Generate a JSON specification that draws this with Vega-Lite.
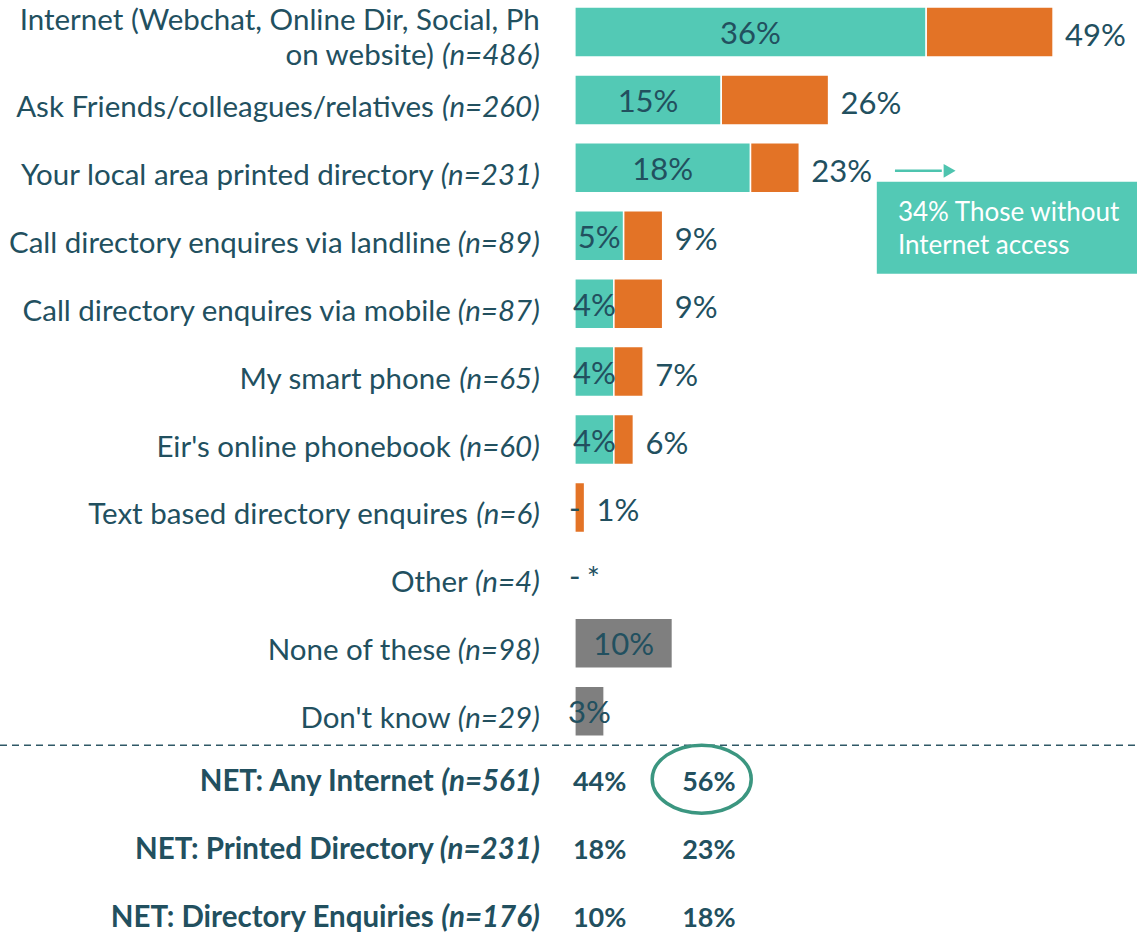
{
  "$schema": "https://vega.github.io/schema/vega-lite/v6.json",
  "width": 1137,
  "height": 933,
  "padding": 0,
  "autosize": {"type": "none"},
  "background": "white",
  "config": {"view": {"stroke": null}, "font": "Lato"},
  "data": {
    "values": [
      {"row": "Internet", "line1": "Internet (Webchat, Online Dir, Social, Ph", "label": "on website)", "n": "(n=486)", "first": 36, "total": 49, "firstLabel": "36%", "totalLabel": "49%", "kind": "answer"},
      {"row": "Ask Friends", "label": "Ask Friends/colleagues/relatives", "n": "(n=260)", "first": 15, "total": 26, "firstLabel": "15%", "totalLabel": "26%", "kind": "answer"},
      {"row": "Printed directory", "label": "Your local area printed directory", "n": "(n=231)", "first": 18, "total": 23, "firstLabel": "18%", "totalLabel": "23%", "kind": "answer"},
      {"row": "Landline", "label": "Call directory enquires via landline", "n": "(n=89)", "first": 5, "total": 9, "firstLabel": "5%", "totalLabel": "9%", "kind": "answer"},
      {"row": "Mobile", "label": "Call directory enquires via mobile", "n": "(n=87)", "first": 4, "total": 9, "firstLabel": "4%", "totalLabel": "9%", "kind": "answer"},
      {"row": "Smart phone", "label": "My smart phone", "n": "(n=65)", "first": 4, "total": 7, "firstLabel": "4%", "totalLabel": "7%", "kind": "answer"},
      {"row": "Eir", "label": "Eir's online phonebook", "n": "(n=60)", "first": 4, "total": 6, "firstLabel": "4%", "totalLabel": "6%", "kind": "answer"},
      {"row": "Text based", "label": "Text based directory enquires", "n": "(n=6)", "first": 0, "total": 1, "firstLabel": "-", "totalLabel": "1%", "kind": "answer"},
      {"row": "Other", "label": "Other", "n": "(n=4)", "first": 0, "total": 0, "firstLabel": "-", "totalLabel": "*", "kind": "answer"},
      {"row": "None", "label": "None of these", "n": "(n=98)", "first": 10, "firstLabel": "10%", "kind": "none"},
      {"row": "Don't know", "label": "Don't know", "n": "(n=29)", "first": 3, "firstLabel": "3%", "kind": "none"},
      {"row": "NET Internet", "net": "NET: Any Internet", "n": "(n=561)", "net1": "44%", "net2": "56%"},
      {"row": "NET Printed", "net": "NET: Printed Directory", "n": "(n=231)", "net1": "18%", "net2": "23%"},
      {"row": "NET Enquiries", "net": "NET: Directory Enquiries", "n": "(n=176)", "net1": "10%", "net2": "18%"}
    ]
  },
  "layer": [
    {
      "transform": [{"filter": "datum.first > 0"}],
      "mark": {"type": "bar", "stroke": "white", "strokeWidth": 1.5},
      "encoding": {
        "y": {"field": "row", "type": "nominal", "axis": null,
          "scale": {"domain": ["Internet", "Ask Friends", "Printed directory", "Landline", "Mobile", "Smart phone", "Eir", "Text based", "Other", "None", "Don't know", "NET Internet", "NET Printed", "NET Enquiries"],
            "range": [7, 940], "paddingInner": 0.264, "paddingOuter": 0}},
        "x": {"field": "first", "type": "quantitative", "axis": null, "scale": {"domain": [-58.9, 57.6], "nice": false, "zero": false}},
        "x2": {"datum": 0},
        "color": {"field": "kind", "type": "nominal", "legend": null, "scale": {"domain": ["answer", "none"], "range": ["#53C9B5", "#7F7F7F"]}}
      }
    },
    {
      "transform": [{"filter": "isValid(datum.total) && datum.total > datum.first"}],
      "mark": {"type": "bar", "stroke": "white", "strokeWidth": 1.5, "color": "#E37326"},
      "encoding": {
        "y": {"field": "row", "type": "nominal"},
        "x": {"field": "first", "type": "quantitative"},
        "x2": {"field": "total"}
      }
    },
    {
      "transform": [{"filter": "isValid(datum.firstLabel)"}, {"calculate": "datum.first / 2", "as": "mid"}],
      "mark": {"type": "text", "align": "center", "baseline": "alphabetic", "fontSize": 31, "color": "#22505F"},
      "encoding": {
        "y": {"field": "row", "type": "nominal", "bandPosition": 0.74},
        "x": {"field": "mid", "type": "quantitative"},
        "text": {"field": "firstLabel"}
      }
    },
    {
      "transform": [{"filter": "isValid(datum.totalLabel)"}],
      "mark": {"type": "text", "align": "left", "baseline": "alphabetic", "fontSize": 31, "dx": 12, "color": "#22505F"},
      "encoding": {
        "y": {"field": "row", "type": "nominal", "bandPosition": 0.78},
        "x": {"field": "total", "type": "quantitative"},
        "text": {"field": "totalLabel"}
      }
    },
    {
      "transform": [{"filter": "isValid(datum.label) && datum.row != 'Internet' && length(datum.n) == 7"}],
      "mark": {"type": "text", "align": "right", "baseline": "alphabetic", "fontSize": 29.5, "dx": -106, "color": "#22505F"},
      "encoding": {
        "y": {"field": "row", "type": "nominal", "bandPosition": 0.84},
        "x": {"datum": -3.59, "type": "quantitative"},
        "text": {"field": "label"}
      }
    },
    {
      "transform": [{"filter": "isValid(datum.label) && length(datum.n) == 6"}],
      "mark": {"type": "text", "align": "right", "baseline": "alphabetic", "fontSize": 29.5, "dx": -89, "color": "#22505F"},
      "encoding": {
        "y": {"field": "row", "type": "nominal", "bandPosition": 0.84},
        "x": {"datum": -3.59, "type": "quantitative"},
        "text": {"field": "label"}
      }
    },
    {
      "transform": [{"filter": "isValid(datum.label) && length(datum.n) == 5"}],
      "mark": {"type": "text", "align": "right", "baseline": "alphabetic", "fontSize": 29.5, "dx": -72, "color": "#22505F"},
      "encoding": {
        "y": {"field": "row", "type": "nominal", "bandPosition": 0.84},
        "x": {"datum": -3.59, "type": "quantitative"},
        "text": {"field": "label"}
      }
    },
    {
      "transform": [{"filter": "isValid(datum.label) && datum.row != 'Internet'"}],
      "mark": {"type": "text", "align": "right", "baseline": "alphabetic", "fontSize": 29.5, "fontStyle": "italic", "color": "#22505F"},
      "encoding": {
        "y": {"field": "row", "type": "nominal", "bandPosition": 0.84},
        "x": {"datum": -3.59, "type": "quantitative"},
        "text": {"field": "n"}
      }
    },
    {
      "transform": [{"filter": "datum.row == 'Internet'"}],
      "mark": {"type": "text", "align": "right", "baseline": "alphabetic", "fontSize": 29.5, "color": "#22505F"},
      "encoding": {
        "y": {"field": "row", "type": "nominal", "bandPosition": 0.46},
        "x": {"datum": -3.59, "type": "quantitative"},
        "text": {"field": "line1"}
      }
    },
    {
      "transform": [{"filter": "datum.row == 'Internet'"}],
      "mark": {"type": "text", "align": "right", "baseline": "alphabetic", "fontSize": 29.5, "dx": -106, "color": "#22505F"},
      "encoding": {
        "y": {"field": "row", "type": "nominal", "bandPosition": 1.17},
        "x": {"datum": -3.59, "type": "quantitative"},
        "text": {"field": "label"}
      }
    },
    {
      "transform": [{"filter": "datum.row == 'Internet'"}],
      "mark": {"type": "text", "align": "right", "baseline": "alphabetic", "fontSize": 29.5, "fontStyle": "italic", "color": "#22505F"},
      "encoding": {
        "y": {"field": "row", "type": "nominal", "bandPosition": 1.17},
        "x": {"datum": -3.59, "type": "quantitative"},
        "text": {"field": "n"}
      }
    },
    {
      "transform": [{"filter": "isValid(datum.net)"}],
      "mark": {"type": "text", "align": "right", "baseline": "alphabetic", "fontSize": 29.5, "fontWeight": "bold", "dx": -106, "color": "#22505F"},
      "encoding": {
        "y": {"field": "row", "type": "nominal", "bandPosition": 0.74},
        "x": {"datum": -3.59, "type": "quantitative"},
        "text": {"field": "net"}
      }
    },
    {
      "transform": [{"filter": "isValid(datum.net)"}],
      "mark": {"type": "text", "align": "right", "baseline": "alphabetic", "fontSize": 29.5, "fontWeight": "bold", "fontStyle": "italic", "color": "#22505F"},
      "encoding": {
        "y": {"field": "row", "type": "nominal", "bandPosition": 0.74},
        "x": {"datum": -3.59, "type": "quantitative"},
        "text": {"field": "n"}
      }
    },
    {
      "transform": [{"filter": "isValid(datum.net)"}],
      "mark": {"type": "text", "align": "left", "baseline": "alphabetic", "fontSize": 27, "fontWeight": "bold", "color": "#22505F"},
      "encoding": {
        "y": {"field": "row", "type": "nominal", "bandPosition": 0.74},
        "x": {"datum": -0.2, "type": "quantitative"},
        "text": {"field": "net1"}
      }
    },
    {
      "transform": [{"filter": "isValid(datum.net)"}],
      "mark": {"type": "text", "align": "left", "baseline": "alphabetic", "fontSize": 27, "fontWeight": "bold", "color": "#22505F"},
      "encoding": {
        "y": {"field": "row", "type": "nominal", "bandPosition": 0.74},
        "x": {"datum": 11.0, "type": "quantitative"},
        "text": {"field": "net2"}
      }
    },
    {
      "data": {"values": [{"name": "divider"}]},
      "mark": {"type": "rule", "color": "#2F5866", "strokeWidth": 1.5, "strokeDash": [7, 5]},
      "encoding": {
        "y": {"datum": "Don't know", "type": "nominal", "bandPosition": 1.18},
        "x": {"datum": -58.9, "type": "quantitative"},
        "x2": {"datum": 57.6}
      }
    },
    {
      "data": {"values": [{"name": "box"}]},
      "mark": {"type": "rule", "color": "#53C9B5", "strokeWidth": 92, "strokeCap": "butt"},
      "encoding": {
        "y": {"datum": "Landline", "type": "nominal", "bandPosition": 0.34},
        "x": {"datum": 30.94, "type": "quantitative"},
        "x2": {"datum": 57.6}
      }
    },
    {
      "data": {"values": [{"note": "34% Those without\nInternet access"}]},
      "mark": {"type": "text", "align": "left", "baseline": "middle", "fontSize": 26, "lineBreak": "\n", "lineHeight": 33, "color": "white"},
      "encoding": {
        "y": {"datum": "Landline", "type": "nominal", "bandPosition": 0.05},
        "x": {"datum": 33.1, "type": "quantitative"},
        "text": {"field": "note"}
      }
    },
    {
      "data": {"values": [{"name": "arrow"}]},
      "mark": {"type": "rule", "color": "#4EC4AF", "strokeWidth": 2.5},
      "encoding": {
        "y": {"datum": "Printed directory", "type": "nominal", "bandPosition": 0.56},
        "x": {"datum": 32.8, "type": "quantitative"},
        "x2": {"datum": 37.6}
      }
    },
    {
      "data": {"values": [{"name": "arrowhead"}]},
      "mark": {"type": "point", "shape": "triangle-right", "filled": true, "size": 190, "color": "#4EC4AF", "opacity": 1},
      "encoding": {
        "y": {"datum": "Printed directory", "type": "nominal", "bandPosition": 0.56},
        "x": {"datum": 38.4, "type": "quantitative"}
      }
    },
    {
      "data": {"values": [{"name": "highlight"}]},
      "mark": {"type": "point", "shape": "M -1 0 A 1 0.687 0 1 0 1 0 A 1 0.687 0 1 0 -1 0 Z", "filled": false, "size": 9801, "stroke": "#3B9680", "strokeWidth": 3.5, "opacity": 1},
      "encoding": {
        "y": {"datum": "NET Internet", "type": "nominal"},
        "x": {"datum": 13.0, "type": "quantitative"}
      }
    }
  ]
}
